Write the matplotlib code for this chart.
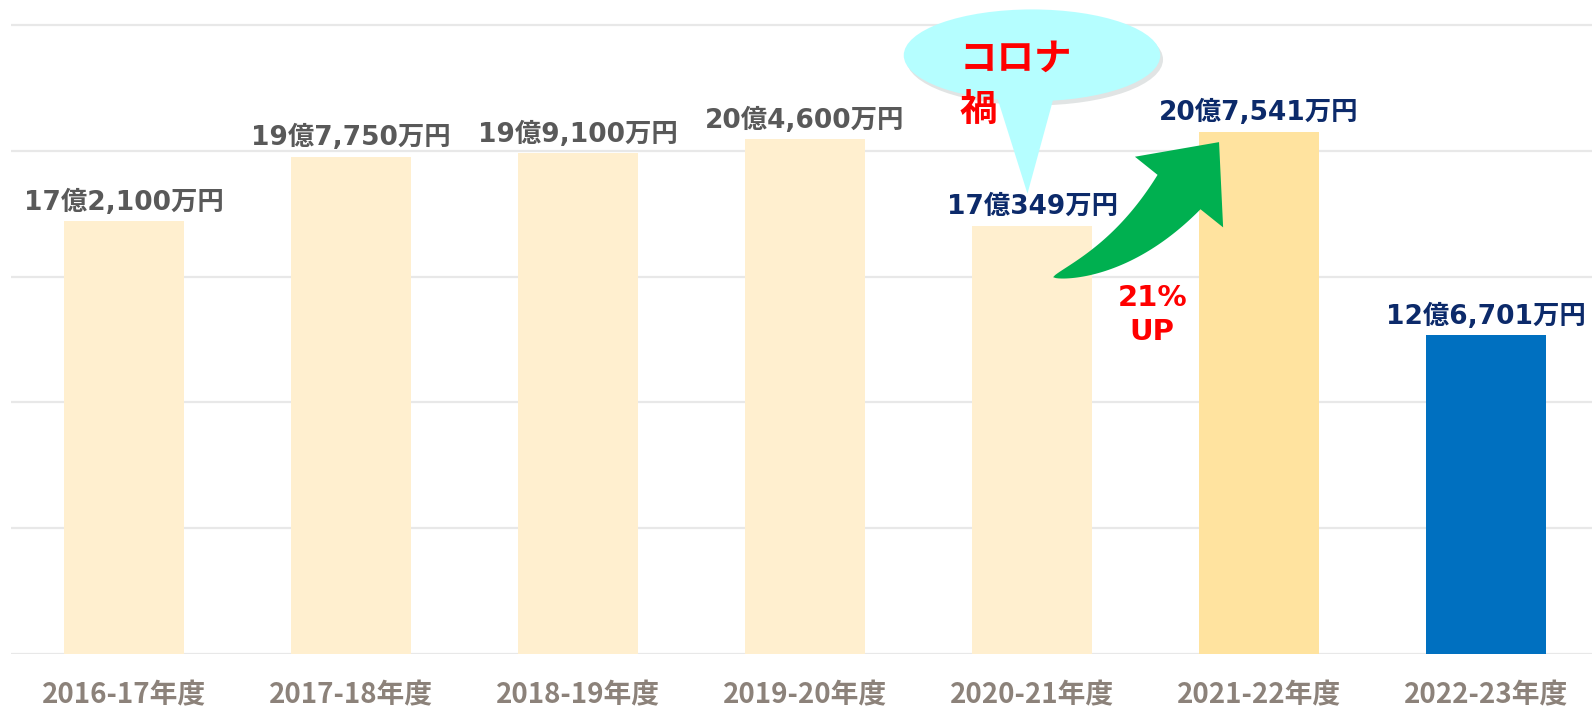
import numpy as np
import matplotlib.pyplot as plt
import matplotlib.patheffects as pe
from matplotlib.patches import Ellipse, Polygon
from matplotlib.transforms import IdentityTransform

plt.rcParams["font.family"] = ["DejaVu Sans", "Noto Sans CJK JP"]

# data
years = ["2016-17年度", "2017-18年度", "2018-19年度", "2019-20年度",
         "2020-21年度", "2021-22年度", "2022-23年度"]
values = [17.21, 19.775, 19.91, 20.46, 17.0349, 20.7541, 12.6701]  # 億円
value_labels = ["17億2,100万円", "19億7,750万円", "19億9,100万円", "20億4,600万円",
                "17億349万円", "20億7,541万円", "12億6,701万円"]
bar_colors = ["#FFEFCF"] * 5 + ["#FFE39F", "#0070C0"]
label_colors = ["#595959"] * 4 + ["#0C2A6A"] * 3

fig = plt.figure(figsize=(15.92, 7.11), dpi=100)
ax = fig.add_axes([10.5 / 1592, 57 / 711, 1589 / 1592, 654 / 711])

x = np.arange(len(years))
ax.bar(x, values, width=0.53, color=bar_colors, zorder=2)
ax.set_xlim(-0.5, 6.5)
ax.set_ylim(0, 26.0)
ax.set_yticks([0, 5, 10, 15, 20, 25])
ax.yaxis.grid(True, color="#E8E8E8", lw=1.6)
ax.set_axisbelow(True)
for s in ax.spines.values():
    s.set_visible(False)
ax.tick_params(axis="y", length=0, labelleft=False)
ax.set_xticks(x, years)
ax.tick_params(axis="x", length=0, pad=19.5)
for t in ax.get_xticklabels():
    t.set_fontfamily("Noto Sans CJK JP")
    t.set_fontsize(20)
    t.set_fontweight("bold")
    t.set_color("#8C827A")

# value labels
for xi, v, lab, c in zip(x, values, value_labels, label_colors):
    ax.annotate(lab, (xi, v), xytext=(0, 4), textcoords="offset points",
                ha="center", va="bottom", fontsize=19, fontweight="bold",
                color=c, zorder=6, annotation_clip=False)

# speech bubble
bubble_col = "#B5FEFF"
ell = Ellipse((4.0, 23.8), 1.13, 3.65, fc=bubble_col, ec="none", zorder=4, clip_on=False,
              path_effects=[pe.SimplePatchShadow(offset=(2, -3), alpha=0.15), pe.Normal()])
ax.add_patch(ell)
tail = Polygon([(3.83, 22.6), (4.11, 22.6), (3.98, 18.3)], closed=True,
               fc=bubble_col, ec="none", zorder=4, clip_on=False)
ax.add_patch(tail)
ax.text(3.68, 23.69, "コロナ", ha="left", va="center", fontsize=27, fontweight="bold",
        color="#FF0000", family="Noto Sans CJK JP", zorder=5)
ax.text(3.68, 21.66, "禍", ha="left", va="center", fontsize=27, fontweight="bold",
        color="#FF0000", family="Noto Sans CJK JP", zorder=5)

# green curved arrow (built in pixel space)
T = ax.transData
p0 = T.transform((4.093, 14.98))
tip = T.transform((4.824, 20.35))
head_len, head_w, tail_w = 64.0, 113.0, 55.0
a_end, a_start = np.radians(51.3), np.radians(14.0)
d_end = np.array([np.cos(a_end), np.sin(a_end)])
d_start = np.array([np.cos(a_start), np.sin(a_start)])
pb = tip - head_len * d_end
s, k = np.linalg.solve(np.column_stack([d_start, d_end]), pb - p0)
ctrl = p0 + s * d_start
t = np.linspace(0, 1, 60)[:, None]
curve = (1 - t) ** 2 * p0 + 2 * (1 - t) * t * ctrl + t ** 2 * pb
deriv = 2 * (1 - t) * (ctrl - p0) + 2 * t * (pb - ctrl)
nrm = np.column_stack([-deriv[:, 1], deriv[:, 0]])
nrm /= np.linalg.norm(nrm, axis=1)[:, None]
half = 0.5 * tail_w * t ** 0.7
left = curve + nrm * half
right = curve - nrm * half
n_end = np.array([-d_end[1], d_end[0]])
outline = np.vstack([left, [pb + n_end * head_w / 2, tip, pb - n_end * head_w / 2], right[::-1]])
ax.add_patch(Polygon(outline, closed=True, fc="#00B050", ec="none", zorder=5,
                     transform=IdentityTransform(), clip_on=False))

ax.text(4.53, 13.47, "21%\nUP", ha="center", va="center", fontsize=21, fontweight="bold",
        color="#FF0000", linespacing=1.3, zorder=6)

fig.savefig("out.png", dpi=100)
